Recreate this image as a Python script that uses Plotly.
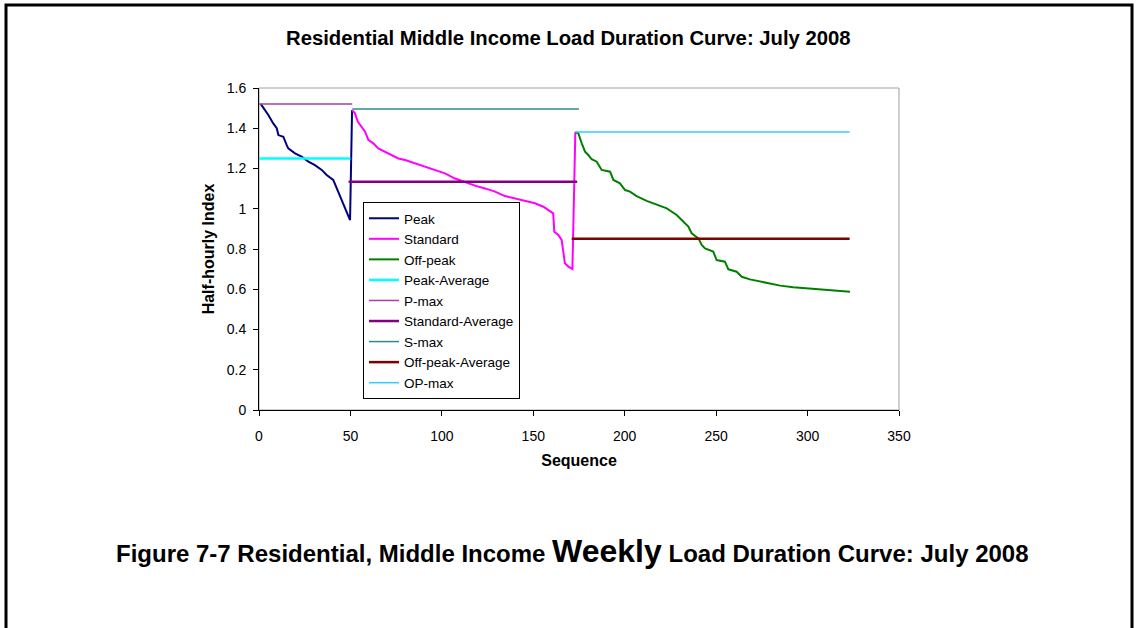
import plotly.graph_objects as go

# ---------------- data ----------------
peak_x = [1, 3.3, 5.1, 7.8, 9.7, 10.6, 13.3, 15.1, 16, 19.7, 23.3, 27, 30.6, 34.3, 37,
          40.6, 42.5, 44.3, 45.6, 47, 48.5, 49.8, 50.9]
peak_y = [1.52, 1.49, 1.466, 1.424, 1.40, 1.366, 1.358, 1.317, 1.30, 1.275, 1.259, 1.234,
          1.217, 1.193, 1.168, 1.143, 1.10, 1.068, 1.035, 1.002, 0.969, 0.944, 1.49]

standard_x = [50.9, 52.5, 54, 56.2, 58, 59.8, 62.5, 65.2, 68.9, 72.6, 76.2, 79.9, 85.3,
              90.8, 96.3, 101.7, 107.2, 112.7, 118.1, 123.6, 129.1, 134.5, 140, 145.5,
              150.9, 155.5, 159.1, 160.9, 161.5, 163.7, 165.5, 166.4, 167.3, 169.2, 171.4,
              173.0]
standard_y = [1.49, 1.474, 1.433, 1.408, 1.383, 1.342, 1.325, 1.30, 1.283, 1.267, 1.25,
              1.242, 1.226, 1.209, 1.193, 1.176, 1.15, 1.131, 1.115, 1.101, 1.085, 1.063,
              1.052, 1.04, 1.027, 1.01, 0.99, 0.977, 0.886, 0.87, 0.845, 0.778, 0.729,
              0.712, 0.70, 1.381]

offpeak_x = [173.0, 174.6, 176.5, 178.3, 180.1, 181.9, 184.7, 187.4, 192, 193.8, 197.4,
             200.2, 202.9, 206.5, 212, 217.5, 223, 228.4, 232.1, 234.8, 236.6, 240.3,
             242.1, 243.9, 248.4, 250.3, 254.8, 256.7, 261.2, 264, 268.5, 274, 279.5, 285,
             292.2, 299.5, 306.8, 314.1, 323.2]
offpeak_y = [1.381, 1.375, 1.325, 1.284, 1.267, 1.246, 1.234, 1.193, 1.184, 1.143, 1.126,
             1.093, 1.085, 1.063, 1.039, 1.022, 1.002, 0.969, 0.936, 0.911, 0.878, 0.853,
             0.82, 0.803, 0.787, 0.745, 0.737, 0.699, 0.687, 0.662, 0.649, 0.638, 0.629,
             0.618, 0.61, 0.605, 0.60, 0.593, 0.588]

# reference levels and their sequence spans
peak_average = 1.25
p_max = 1.52
standard_average = 1.134
s_max = 1.496
offpeak_average = 0.851
op_max = 1.381
peak_span = [0, 50]
pmax_span = [0, 51]
std_avg_span = [49, 174]
smax_span = [51, 175]
op_avg_span = [171, 323]
opmax_span = [173, 323]

x_ticks = [0, 50, 100, 150, 200, 250, 300, 350]
y_ticks = [0, 0.2, 0.4, 0.6, 0.8, 1, 1.2, 1.4, 1.6]
y_tick_labels = ["0", "0.2", "0.4", "0.6", "0.8", "1", "1.2", "1.4", "1.6"]

# ---------------- figure ----------------
FONT = "Liberation Sans, Arial, sans-serif"
W, H = 1137, 628
L, R, T, B = 259, 899, 88, 410   # plot area in pixels


def xp(px):
    return (px - L) / (R - L)


def yp(py):
    return (B - py) / (B - T)


fig = go.Figure()


def add(name, x, y, color, width, group):
    fig.add_trace(go.Scatter(x=x, y=y, mode="lines", name=name,
                             line=dict(color=color, width=width),
                             legendgroup=group))


add("Peak", peak_x, peak_y, "#000080", 2, "a")
add("Standard", standard_x, standard_y, "#ff00ff", 2, "b")
add("Off-peak", offpeak_x, offpeak_y, "#008000", 2, "c")
add("Peak-Average", peak_span, [peak_average] * 2, "#00ffff", 2.5, "d")
add("P-max", pmax_span, [p_max] * 2, "#a040a0", 1.5, "e")
add("Standard-Average", std_avg_span, [standard_average] * 2, "#800080", 2.5, "f")
add("S-max", smax_span, [s_max] * 2, "#2e8b8b", 1.5, "g")
add("Off-peak-Average", op_avg_span, [offpeak_average] * 2, "#800000", 2.5, "h")
add("OP-max", opmax_span, [op_max] * 2, "#33ccff", 1.5, "i")

fig.update_layout(
    width=W, height=H,
    margin=dict(l=L, r=W - R, t=T, b=H - B, pad=0),
    paper_bgcolor="white", plot_bgcolor="white",
    font=dict(family=FONT, size=14, color="black"),
    showlegend=True,
    legend=dict(x=xp(363), y=yp(202), xanchor="left", yanchor="top",
                bordercolor="black", borderwidth=1, bgcolor="white",
                font=dict(family=FONT, size=13.5, color="black"),
                tracegroupgap=0, itemwidth=30),
    xaxis=dict(range=[0, 350], tickvals=x_ticks, ticks="outside", ticklen=5,
               tickcolor="black", showline=True, linecolor="black", linewidth=1,
               showgrid=False, zeroline=False, tickfont=dict(size=14),
               ticklabelstandoff=8,
               title=dict(text="<b>Sequence</b>", font=dict(size=16), standoff=12)),
    yaxis=dict(range=[0, 1.6], tickvals=y_ticks, ticktext=y_tick_labels,
               ticks="outside", ticklen=5, tickcolor="black", showline=True,
               linecolor="black", linewidth=1, showgrid=False, zeroline=False,
               tickfont=dict(size=14), ticklabelstandoff=4,
               title=dict(text="<b>Half-hourly Index</b>", font=dict(size=16), standoff=8)),
    shapes=[
        # plot area border (grey, top/right visible)
        dict(type="rect", xref="paper", yref="paper", x0=0, x1=1, y0=0, y1=1,
             line=dict(color="#a0a0a0", width=1), layer="below"),
        # page frame (left, top, right)
        dict(type="path", xref="paper", yref="paper",
             path=f"M {xp(6)},{yp(640)} L {xp(6)},{yp(5)} L {xp(1132)},{yp(5)} L {xp(1132)},{yp(640)}",
             line=dict(color="black", width=3)),
    ],
    annotations=[
        dict(text="<b>Residential Middle Income Load Duration Curve: July 2008</b>",
             xref="paper", yref="paper", x=xp(568), y=yp(38), showarrow=False,
             xanchor="center", yanchor="middle", font=dict(size=20.3)),
        dict(text="<b>Figure 7-7 Residential, Middle Income <span style='font-size:32px'>Weekly</span> Load Duration Curve: July 2008</b>",
             xref="paper", yref="paper", x=xp(572), y=yp(551), showarrow=False,
             xanchor="center", yanchor="middle", font=dict(size=24)),
    ],
)

fig.write_html("out.html", config={"displayModeBar": False},
               post_script="document.body.style.margin='0';")
